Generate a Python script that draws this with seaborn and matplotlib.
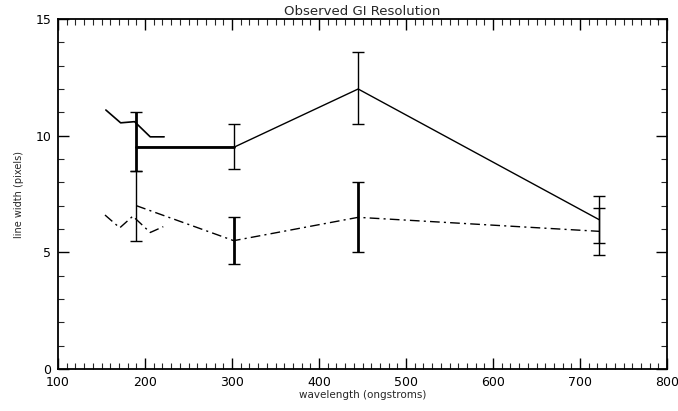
import matplotlib
matplotlib.use("Agg")
import matplotlib.pyplot as plt
import seaborn as sns
import pandas as pd
from matplotlib.ticker import MultipleLocator

sns.set_theme(style="ticks")
plt.rcParams['font.family'] = ['DejaVu Sans']

# Short solid trace (upper left)
solid_short_x = [155, 172, 188, 206, 222]
solid_short_y = [11.1, 10.55, 10.6, 9.95, 9.95]
# Short dash-dot trace (upper left)
dash_short_x = [154, 171, 186, 206, 221]
dash_short_y = [6.6, 6.05, 6.55, 5.85, 6.1]

# Main measured points
wavelength = [190, 302, 445, 722]
solid_y = [9.5, 9.5, 12.0, 6.4]
solid_lo = [8.5, 8.55, 10.5, 5.4]
solid_hi = [11.0, 10.5, 13.6, 7.4]
dash_y = [7.0, 5.5, 6.5, 5.9]
dash_lo = [5.5, 4.5, 5.0, 4.9]
dash_hi = [8.5, 6.5, 8.0, 6.9]

fig = plt.figure(figsize=(6.78, 4.11), dpi=100)
ax = fig.add_axes([58/678, 1-369/411, (667-58)/678, (369-19)/411])

dashdot = (0, (7, 3, 1.5, 3))

df_ss = pd.DataFrame({"x": solid_short_x, "y": solid_short_y})
df_ds = pd.DataFrame({"x": dash_short_x, "y": dash_short_y})
df_s = pd.DataFrame({"x": wavelength, "y": solid_y})
df_d = pd.DataFrame({"x": wavelength, "y": dash_y})

sns.lineplot(data=df_ss, x="x", y="y", ax=ax, color="black", lw=1.2, sort=False, estimator=None)
sns.lineplot(data=df_ds, x="x", y="y", ax=ax, color="black", lw=1.0, sort=False, estimator=None,
             linestyle=dashdot)
sns.lineplot(data=df_s, x="x", y="y", ax=ax, color="black", lw=1.0, sort=False, estimator=None)
sns.lineplot(data=df_d, x="x", y="y", ax=ax, color="black", lw=1.0, sort=False, estimator=None,
             linestyle=dashdot)
# thick segment between first two solid points
ax.plot(wavelength[:2], solid_y[:2], color="black", lw=2.0)

solid_bar_w = [2.0, 1.0, 1.0, 1.0]
dash_bar_w = [1.0, 2.0, 2.0, 1.0]
for x, y, lo, hi, w in zip(wavelength, solid_y, solid_lo, solid_hi, solid_bar_w):
    ax.errorbar([x], [y], yerr=[[y - lo], [hi - y]], fmt="none", ecolor="black",
                elinewidth=w, capsize=4, capthick=1.0)
for x, y, lo, hi, w in zip(wavelength, dash_y, dash_lo, dash_hi, dash_bar_w):
    ax.errorbar([x], [y], yerr=[[y - lo], [hi - y]], fmt="none", ecolor="black",
                elinewidth=w, capsize=4, capthick=1.0)

ax.set_xlim(100, 800)
ax.set_ylim(0, 15)
ax.xaxis.set_major_locator(MultipleLocator(100))
ax.xaxis.set_minor_locator(MultipleLocator(10))
ax.yaxis.set_major_locator(MultipleLocator(5))
ax.yaxis.set_minor_locator(MultipleLocator(1))
ax.tick_params(which="major", direction="in", length=8, width=1, top=True, right=True, labelsize=9,
               colors="black", pad=5)
ax.tick_params(which="minor", direction="in", length=4, width=0.8, top=True, right=True)
for sp in ax.spines.values():
    sp.set_visible(True)
    sp.set_color("black")
    sp.set_linewidth(1.3)

ax.set_title("Observed GI Resolution", fontsize=9.5, pad=3)
ax.set_xlabel("wavelength (ongstroms)", fontsize=7.5, labelpad=1)
ax.set_ylabel("line width (pixels)", fontsize=7, labelpad=8)

fig.savefig("out.png", dpi=100, facecolor="white")
